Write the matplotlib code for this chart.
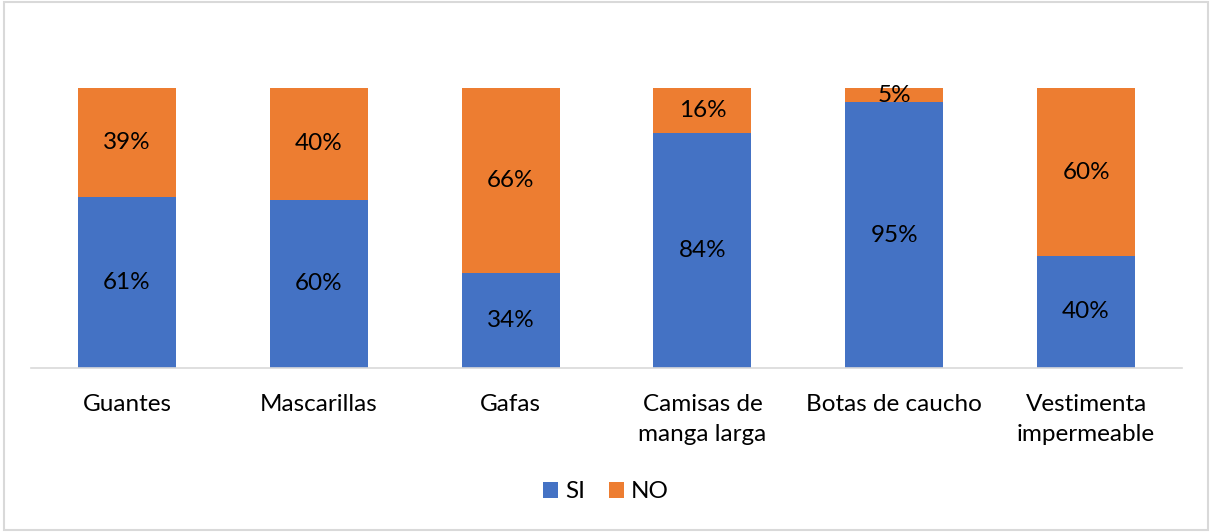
import numpy as np
import matplotlib
matplotlib.use("Agg")
import matplotlib.pyplot as plt

plt.rcParams['font.family'] = ['Lato', 'DejaVu Sans']

# Datos
categorias = ['Guantes', 'Mascarillas', 'Gafas', 'Camisas de\nmanga larga',
              'Botas de caucho', 'Vestimenta\nimpermeable']
si = [61, 60, 34, 84, 95, 40]
no = [39, 40, 66, 16, 5, 60]

azul = '#4472C4'
naranja = '#ED7D31'
fs = 17.5

fig = plt.figure(figsize=(12.12, 5.32), dpi=100)
fig.patches.append(plt.Rectangle((0.003, 0.004), 0.994, 0.992, transform=fig.transFigure,
                                 fill=False, edgecolor='#D9D9D9', linewidth=1.5))
ax = fig.add_axes([31 / 1212, (532 - 368) / 532, 1151 / 1212, 280 / 532])

x = np.arange(len(categorias))
si_f = np.array(si) / 100
no_f = np.array(no) / 100
b1 = ax.bar(x, si_f, width=0.51, color=azul, label='SI')
b2 = ax.bar(x, no_f, width=0.51, bottom=si_f, color=naranja, label='NO')

for i in range(len(x)):
    ax.text(x[i], si_f[i] / 2, f'{si[i]}%', ha='center', va='center', fontsize=fs)
    ax.text(x[i], si_f[i] + no_f[i] / 2, f'{no[i]}%', ha='center', va='center', fontsize=fs)

ax.set_xlim(-0.5, len(x) - 0.5)
ax.set_ylim(0, 1)
ax.set_xticks(x)
ax.set_xticklabels(categorias, fontsize=fs, linespacing=1.5)
ax.tick_params(axis='x', length=0, pad=19)
ax.set_yticks([])
for s in ['top', 'right', 'left']:
    ax.spines[s].set_visible(False)
ax.spines['bottom'].set_color('#D9D9D9')
ax.spines['bottom'].set_linewidth(1.2)

fig.legend(handles=[b1, b2], loc='center', bbox_to_anchor=(0.5, (532 - 492) / 532),
           ncol=2, frameon=False, fontsize=fs, handlelength=0.6, handleheight=0.6,
           handletextpad=0.3, columnspacing=1.0)

plt.savefig('out.png', dpi=100)
